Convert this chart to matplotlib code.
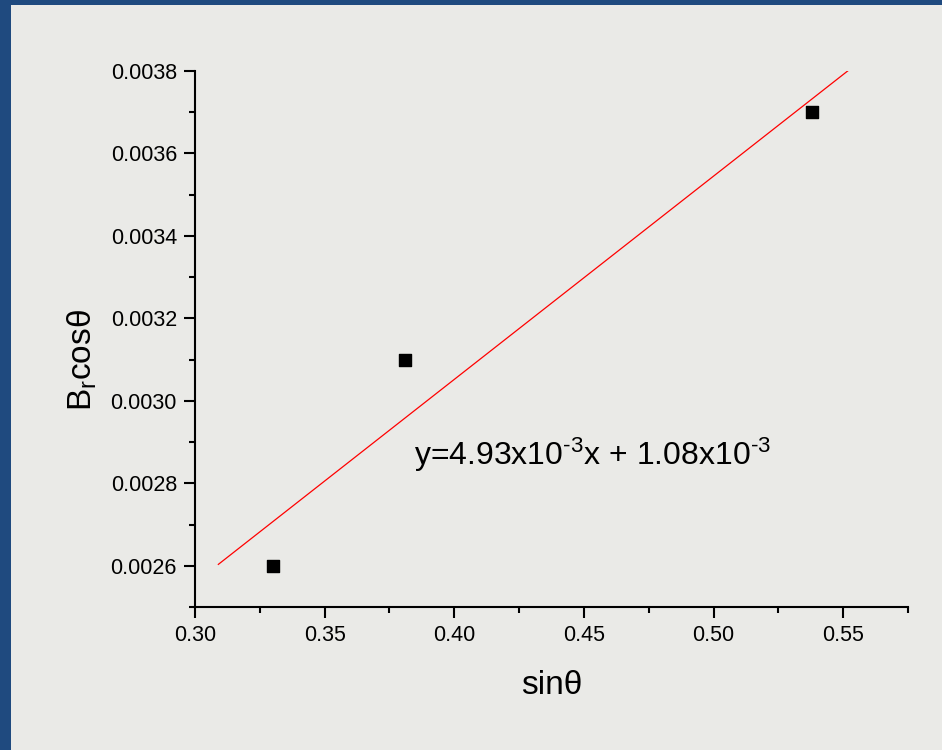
import numpy as np
import matplotlib.pyplot as plt
from matplotlib.ticker import MultipleLocator, FormatStrFormatter

plt.rcParams["font.family"] = ["Liberation Sans", "DejaVu Sans"]
plt.rcParams["mathtext.fontset"] = "custom"
plt.rcParams["mathtext.rm"] = "Liberation Sans"
plt.rcParams["mathtext.it"] = "Liberation Sans"
plt.rcParams["mathtext.default"] = "regular"

# measured points
sin_theta = [0.330, 0.381, 0.538]
br_cos_theta = [0.0026, 0.0031, 0.0037]

# linear fit shown on the chart
slope = 4.93e-3
intercept = 1.08e-3
fit_x_range = [0.309, 0.552]

fig = plt.figure(figsize=(9.42, 7.5), dpi=100)
fig.patch.set_facecolor("#1f4a7f")

# light panel inside the blue frame (left and top edges only)
bg = fig.add_axes([11 / 942, 0, 1 - 11 / 942, 1 - 5 / 750], zorder=-1)
bg.set_facecolor("#eaeae7")
bg.set_xticks([])
bg.set_yticks([])
for s in bg.spines.values():
    s.set_visible(False)

ax = fig.add_axes([195 / 942, 1 - 607 / 750, 713 / 942, 536 / 750])
ax.set_facecolor("none")

fit_x = np.array(fit_x_range)
ax.plot(fit_x, slope * fit_x + intercept, color="red", lw=0.9)
ax.scatter(sin_theta, br_cos_theta, marker="s", s=80, color="black", zorder=3)

ax.set_xlim(0.30, 0.575)
ax.set_ylim(0.0025, 0.0038)
ax.xaxis.set_major_locator(MultipleLocator(0.05))
ax.xaxis.set_minor_locator(MultipleLocator(0.025))
ax.yaxis.set_major_locator(MultipleLocator(0.0002))
ax.yaxis.set_minor_locator(MultipleLocator(0.0001))
ax.xaxis.set_major_formatter(FormatStrFormatter("%.2f"))
ax.yaxis.set_major_formatter(FormatStrFormatter("%.4f"))

for side in ["top", "right"]:
    ax.spines[side].set_visible(False)
for side in ["left", "bottom"]:
    ax.spines[side].set_linewidth(1.5)

ax.tick_params(which="major", direction="out", length=8, width=1.5,
               labelsize=15.5, pad=5)
ax.tick_params(which="minor", direction="out", length=4.5, width=1.5)

ax.set_xlabel("sinθ", fontsize=24)
ax.xaxis.set_label_coords(0.5, -0.118)
ax.set_ylabel("B$_{r}$cosθ", fontsize=24)
ax.yaxis.set_label_coords(-0.134, 0.46)

ax.text(0.3846, 0.002845,
        r"y=4.93x10$^{\text{-3}}$x + 1.08x10$^{\text{-3}}$",
        fontsize=23, ha="left", va="baseline")

fig.savefig("out.png", dpi=100, facecolor=fig.get_facecolor())
